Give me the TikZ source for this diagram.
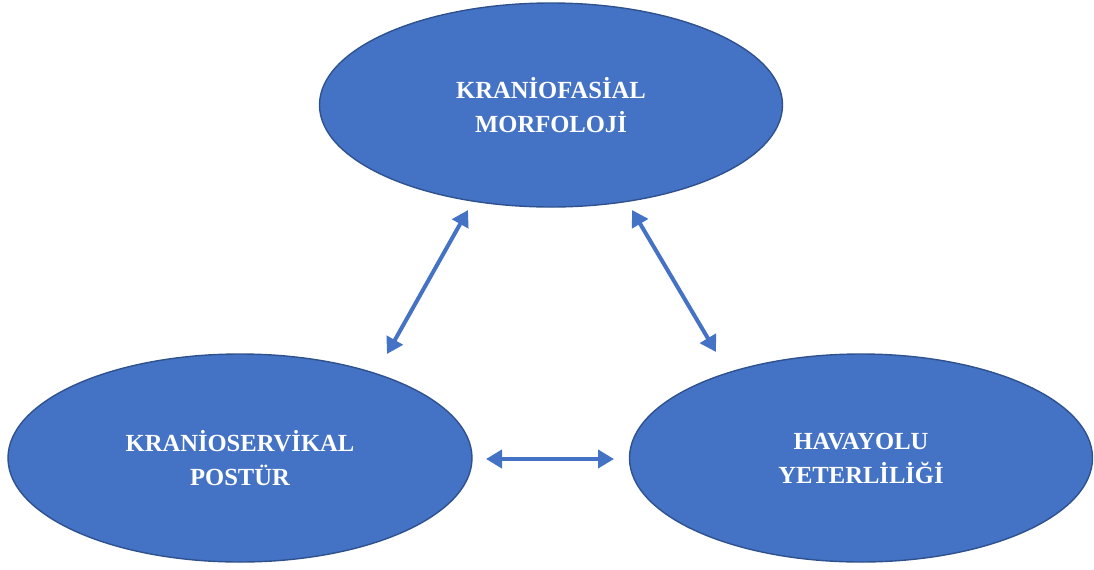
\documentclass[tikz,border=0pt]{standalone}
\usepackage{fontspec}
\setmainfont{Liberation Serif}
\usepackage{tikz}
\usetikzlibrary{arrows.meta,positioning,shapes.geometric}
\definecolor{ovalfill}{HTML}{4472C4}
\definecolor{ovaldraw}{HTML}{2F528F}
\tikzset{
  rel/oval/.style={draw=ovaldraw, line width=0.7pt, fill=ovalfill, ellipse, inner sep=0pt, align=center,
    text=white, font=\bfseries\fontsize{12.3}{17}\selectfont},
  rel/link/.style={draw=ovalfill, line width=2pt, {Triangle[length=8pt,width=9pt]}-{Triangle[length=8pt,width=9pt]}}
}

\begin{document}
\begin{tikzpicture}[x=0.5pt,y=-0.5pt]
  \useasboundingbox (0,0) rectangle (1094,569);
  \node[rel/oval, minimum width=231.5pt, minimum height=102pt] (kf) at (551,105) {KRAN\.IOFAS\.IAL\\MORFOLOJ\.I};
  \node[rel/oval, minimum width=232pt, minimum height=104pt] (kp) at (240,458) {KRAN\.IOSERV\.IKAL\\POSTÜR};
  \node[rel/oval, minimum width=231.5pt, minimum height=104pt] (hy) at (861,458) {HAVAYOLU\\YETERL\.IL\.I\u{G}\.I};
  \coordinate (kp-up) at (387,354);
  \coordinate (kf-left) at (468,210);
  \coordinate (kf-right) at (632,210);
  \coordinate (hy-up) at (716,352);
  \coordinate (kp-right) at (486,459);
  \coordinate (hy-left) at (614,459);
  \draw[rel/link] (kp-up) -- (kf-left);
  \draw[rel/link] (kf-right) -- (hy-up);
  \draw[rel/link] (kp-right) -- (hy-left);
\end{tikzpicture}
\end{document}
